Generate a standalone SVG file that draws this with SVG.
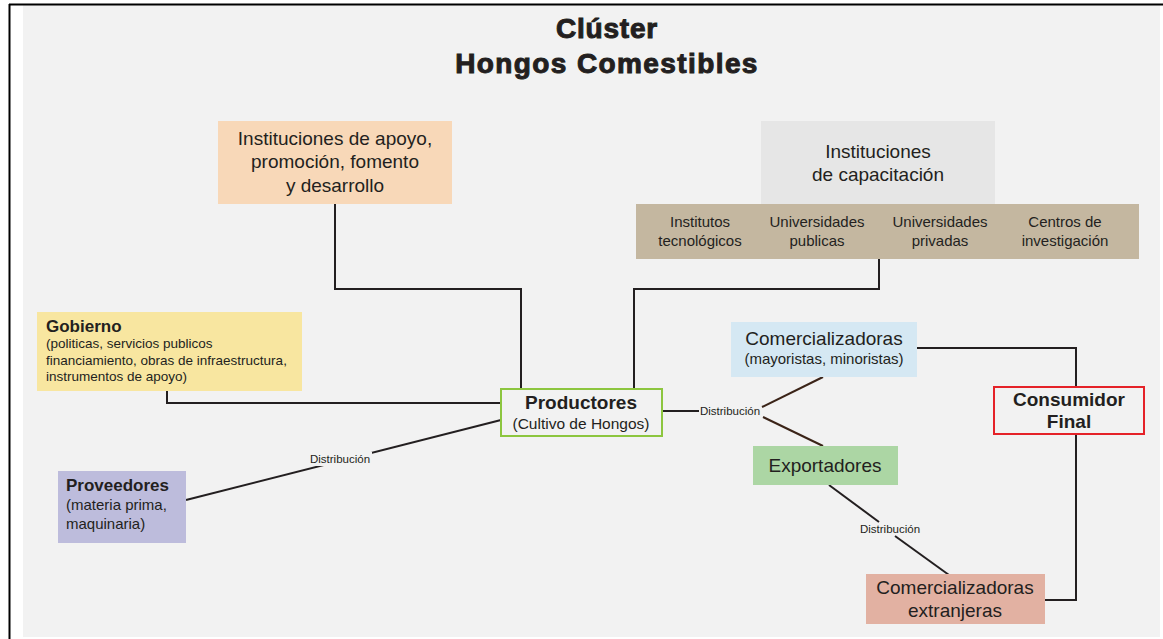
<svg xmlns="http://www.w3.org/2000/svg" width="1163" height="639" viewBox="0 0 1163 639">
<style>
text{font-family:"Liberation Sans",Arial,sans-serif;fill:#231f20}
.c{text-anchor:middle}
.t19{font-size:19px}
.b{font-weight:bold}
.s15{font-size:15px}
.s13{font-size:13.5px}
.lbl{font-size:11.5px;text-anchor:middle}
.ln{fill:none;stroke:#231f20;stroke-width:2}
.br{fill:none;stroke:#3b2418;stroke-width:2}
</style>
<rect x="0" y="0" width="1163" height="639" fill="#ffffff"/>
<rect x="23" y="5" width="1137" height="632" fill="#f2f2f2"/>
<line x1="9" y1="4.5" x2="1163" y2="4.5" stroke="#000" stroke-width="2"/>
<line x1="9.5" y1="4" x2="9.5" y2="639" stroke="#000" stroke-width="2"/>
<g id="title">
<text class="c b" x="607" y="38" font-size="28" stroke="#231f20" stroke-width="1" letter-spacing="0.8">Clúster</text>
<text class="c b" x="607" y="73" font-size="28" stroke="#231f20" stroke-width="1" letter-spacing="1.4">Hongos Comestibles</text>
</g>
<g id="connectors">
<polyline class="ln" points="335,204 335,289 521,289 521,389"/>
<polyline class="ln" points="879,259 879,289 634,289 634,389"/>
<polyline class="ln" points="167,391 167,403 501,403"/>
<line class="ln" x1="186" y1="500" x2="501" y2="420"/>
<rect x="306" y="452" width="66" height="14" fill="#f2f2f2"/>
<text class="lbl" x="340" y="463">Distribución</text>
<line class="ln" x1="663" y1="411" x2="699" y2="411"/>
<text class="lbl" x="730" y="415">Distribución</text>
<line class="br" x1="762" y1="407" x2="823" y2="377"/>
<line class="br" x1="763" y1="417" x2="823" y2="446"/>
<polyline class="ln" points="917,348 1076,348 1076,387"/>
<polyline class="ln" points="1076,434 1076,600 1045,600"/>
<line class="ln" x1="829" y1="485" x2="879" y2="522"/>
<text class="lbl" x="890" y="533">Distribución</text>
<line class="ln" x1="895" y1="536" x2="949" y2="575"/>
</g>
<g id="instituciones-apoyo">
<rect x="218" y="121" width="234" height="83" fill="#f8d8b8"/>
<text class="c t19" x="335" y="145">Instituciones de apoyo,</text>
<text class="c t19" x="335" y="168">promoción, fomento</text>
<text class="c t19" x="335" y="192">y desarrollo</text>
</g>
<g id="instituciones-capacitacion">
<rect x="761" y="121" width="234" height="84" fill="#e6e6e6"/>
<text class="c t19" x="878" y="158">Instituciones</text>
<text class="c t19" x="878" y="181">de capacitación</text>
</g>
<g id="tipos-capacitacion">
<rect x="636" y="204" width="503" height="55" fill="#c4b7a0"/>
<text class="c s15" x="700" y="227">Institutos</text>
<text class="c s15" x="700" y="246">tecnológicos</text>
<text class="c s15" x="817" y="227">Universidades</text>
<text class="c s15" x="817" y="246">publicas</text>
<text class="c s15" x="940" y="227">Universidades</text>
<text class="c s15" x="940" y="246">privadas</text>
<text class="c s15" x="1065" y="227">Centros de</text>
<text class="c s15" x="1065" y="246">investigación</text>
</g>
<g id="gobierno">
<rect x="37" y="312" width="265" height="79" fill="#f8e6a0"/>
<text class="b" x="46" y="332" font-size="17">Gobierno</text>
<text class="s13" x="46" y="348">(politicas, servicios publicos</text>
<text class="s13" x="46" y="365">financiamiento, obras de infraestructura,</text>
<text class="s13" x="46" y="381">instrumentos de apoyo)</text>
</g>
<g id="productores">
<rect x="501" y="389" width="161" height="47" fill="#f2f2f2" stroke="#8dc63f" stroke-width="2"/>
<text class="c b" x="581" y="409" font-size="19">Productores</text>
<text class="c" x="581" y="429" font-size="15.5">(Cultivo de Hongos)</text>
</g>
<g id="proveedores">
<rect x="58" y="471" width="128" height="72" fill="#bdbcdc"/>
<text class="b" x="66" y="491" font-size="17">Proveedores</text>
<text class="s15" x="66" y="510">(materia prima,</text>
<text class="s15" x="66" y="529">maquinaria)</text>
</g>
<g id="comercializadoras">
<rect x="731" y="322" width="186" height="55" fill="#d5e8f3"/>
<text class="c t19" x="824" y="345">Comercializadoras</text>
<text class="c s15" x="824" y="364">(mayoristas, minoristas)</text>
</g>
<g id="consumidor-final">
<rect x="994" y="387" width="150" height="47" fill="#f2f2f2" stroke="#e52228" stroke-width="2"/>
<text class="c b" x="1069" y="406" font-size="19">Consumidor</text>
<text class="c b" x="1069" y="428" font-size="19">Final</text>
</g>
<g id="exportadores">
<rect x="753" y="446" width="145" height="39" fill="#acd6a4"/>
<text class="c t19" x="825" y="472">Exportadores</text>
</g>
<g id="comercializadoras-extranjeras">
<rect x="866" y="574" width="179" height="50" fill="#e2b1a2"/>
<text class="c t19" x="955" y="594">Comercializadoras</text>
<text class="c t19" x="955" y="617">extranjeras</text>
</g>
</svg>
